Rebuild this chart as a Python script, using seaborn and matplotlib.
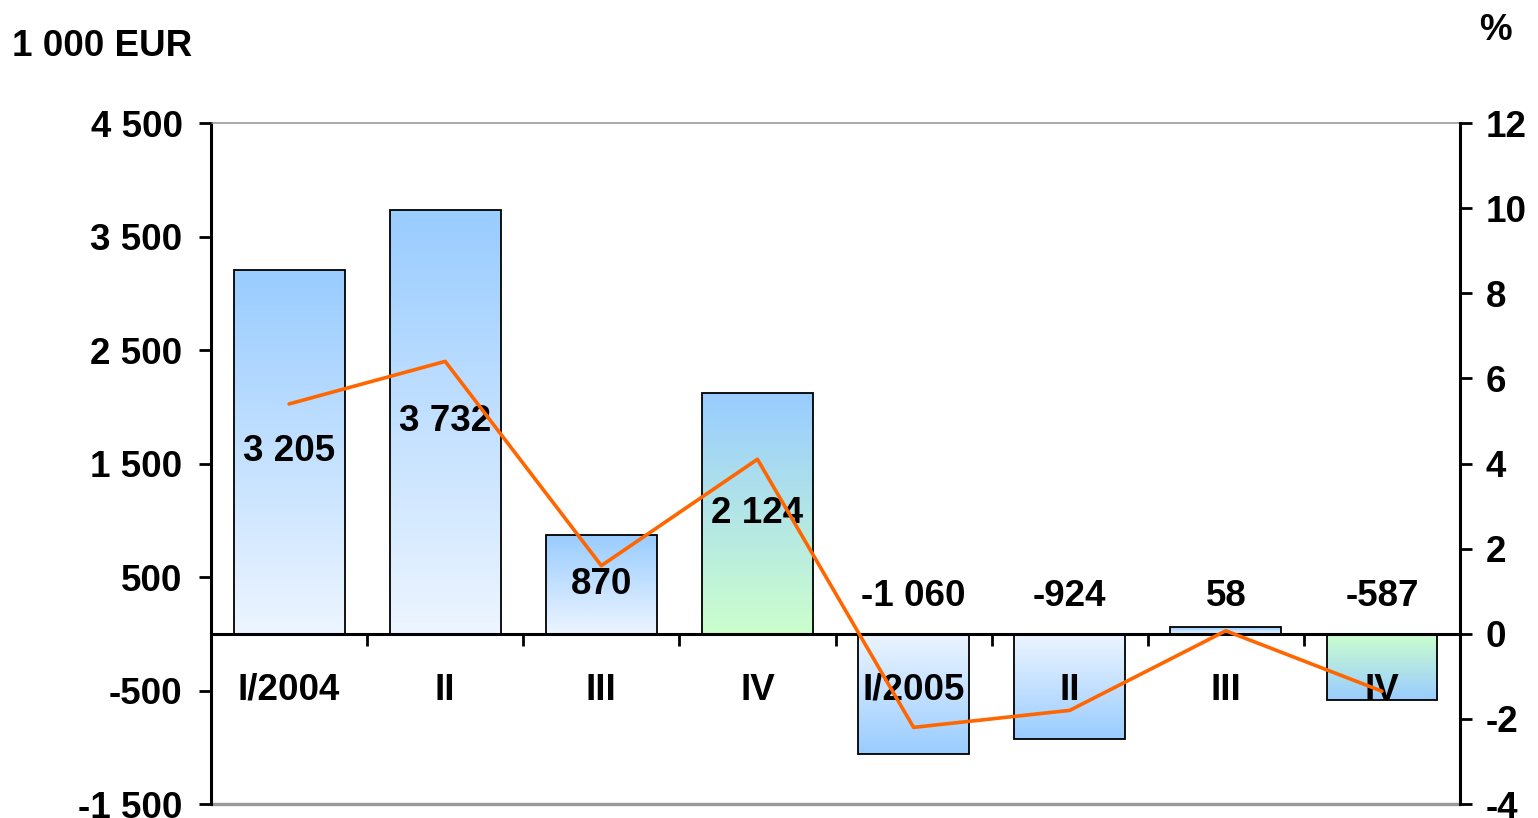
import numpy as np
import matplotlib
matplotlib.use('Agg')
import matplotlib.pyplot as plt
from matplotlib.colors import to_rgb
import seaborn as sns

quarters = ['I/2004', 'II', 'III', 'IV', 'I/2005', 'II', 'III', 'IV']
values = [3205, 3732, 870, 2124, -1060, -924, 58, -587]
growth = [5.4, 6.4, 1.6, 4.1, -2.2, -1.8, 0.07, -1.35]
green_bar = [False, False, False, True, False, False, False, True]
left_ticks = [-1500, -500, 500, 1500, 2500, 3500, 4500]
right_ticks = [-4, -2, 0, 2, 4, 6, 8, 10, 12]

sns.set_theme(style='white')
plt.rcParams['font.family'] = ['Liberation Sans', 'DejaVu Sans']
plt.rcParams['font.weight'] = 'bold'
plt.rcParams['text.color'] = 'black'
plt.rcParams['xtick.color'] = 'black'
plt.rcParams['ytick.color'] = 'black'

FS = 26.5


def fmt(v):
    return f'{v:,}'.replace(',', ' ')


fig = plt.figure(figsize=(15.38, 8.18), dpi=100)
ax = fig.add_axes([0.1372, 0.0171, 0.8121, 0.8325])

pos = np.arange(len(quarters))
sns.barplot(x=pos, y=values, ax=ax, width=0.71, errorbar=None, color='white')

blue = np.array(to_rgb('#99CCFF'))
light = np.array(to_rgb('#EDF5FF'))
green = np.array(to_rgb('#CCFFCC'))
t = np.linspace(0, 1, 256)[:, None]

for patch, v, g in zip(ax.patches, values, green_bar):
    patch.set_facecolor('none')
    patch.set_edgecolor('black')
    patch.set_linewidth(1.3)
    patch.set_zorder(2)
    x0 = patch.get_x()
    w = patch.get_width()
    base = green if g else light
    grad = base * (1 - t) + blue * t  # row 0 = near zero
    if v < 0:
        grad = grad[::-1]
    y_lo, y_hi = min(0, v), max(0, v)
    im = ax.imshow(grad[:, None, :], extent=[x0, x0 + w, y_lo, y_hi],
                   origin='lower', aspect='auto', zorder=1, interpolation='bilinear')
    im.set_clip_path(patch)

for p, v in zip(pos, values):
    y = v / 2 if v > 300 else 330
    ax.text(p, y, fmt(v), ha='center', va='center', fontsize=FS, fontweight='bold', zorder=5)

ax.set_axisbelow(False)
ax.set_xlim(-0.5, 7.5)
ax.set_ylim(-1500, 4500)
ax.set_yticks(left_ticks, [fmt(v) for v in left_ticks])
ax.set_xticks(pos, quarters)
ax.set_xticks(np.arange(0.5, 7, 1), minor=True)

ax.spines['bottom'].set_position(('data', 0))
ax.spines['bottom'].set_linewidth(2.2)
ax.spines['bottom'].set_color('black')
ax.spines['bottom'].set_zorder(3)
ax.spines['left'].set_linewidth(2.2)
ax.spines['left'].set_color('black')
ax.spines['top'].set_color('#999999')
ax.spines['top'].set_linewidth(1.2)
ax.spines['right'].set_visible(False)
ax.axhline(-1500, color='#999999', lw=2.4, zorder=0, clip_on=False)

ax.tick_params(axis='x', which='major', length=0, pad=28, labelsize=FS)
ax.tick_params(axis='x', which='minor', bottom=True, length=8.5, width=2, color='black', direction='out')
ax.tick_params(axis='y', left=True, length=8.5, width=2, color='black', direction='out', pad=12, labelsize=FS)
for lab in ax.get_xticklabels() + ax.get_yticklabels():
    lab.set_fontweight('bold')

ax2 = ax.twinx()
sns.lineplot(x=pos, y=growth, ax=ax2, color='#FF6600', lw=2.6, zorder=4)
ax2.set_ylim(-4, 12)
ax2.set_xlim(-0.5, 7.5)
ax2.set_yticks(right_ticks, [str(v) for v in right_ticks])
ax2.set_ylabel('')
for s in ['left', 'top', 'bottom']:
    ax2.spines[s].set_visible(False)
ax2.spines['right'].set_linewidth(2.2)
ax2.spines['right'].set_color('black')
ax2.tick_params(axis='y', right=True, length=8.5, width=2, color='black', direction='out', pad=10, labelsize=FS)
for lab in ax2.get_yticklabels():
    lab.set_fontweight('bold')

fig.text(12 / 1538, 1 - 47 / 818, '1 000 EUR', fontsize=FS, fontweight='bold', va='center', ha='left')
fig.text(1495 / 1538, 1 - 30 / 818, '%', fontsize=FS, fontweight='bold', va='center', ha='center')

fig.savefig('out.png', dpi=100)
